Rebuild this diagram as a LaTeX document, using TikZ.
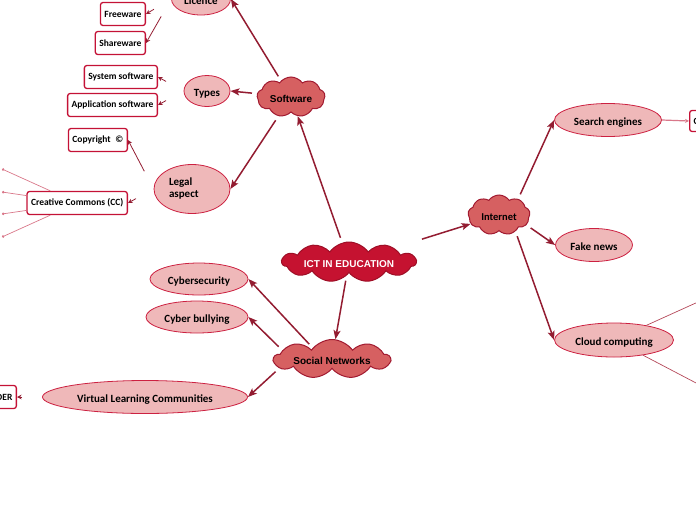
\documentclass[tikz,border=0pt]{standalone}
\usepackage{fontspec}
\setmainfont{Carlito}
\newfontfamily\headfont{Liberation Sans}
\usetikzlibrary{shapes.symbols,shapes.geometric,arrows.meta}

\definecolor{ictred}{HTML}{C51230}
\definecolor{topicred}{HTML}{D66061}
\definecolor{topicline}{HTML}{A11A30}
\definecolor{subpink}{HTML}{EFB8B9}
\definecolor{subline}{HTML}{CC2141}
\definecolor{leafline}{HTML}{C41236}
\definecolor{linkred}{HTML}{931C31}
\definecolor{stempink}{HTML}{D9788A}

\tikzstyle{topic}=[
	cloud, cloud puffs=9, cloud puff arc=110, cloud ignores aspect,
	draw=topicline, fill=topicred, line width=1pt, inner sep=0pt,
	text height=11pt, text depth=0pt,
	text=black, font=\headfont\bfseries\fontsize{10}{12}\selectfont
	]
\tikzstyle{central}=[
	topic, cloud puffs=11, fill=ictred, draw=ictred!80!black, text=white
	]
\tikzstyle{sub}=[
	ellipse, draw=subline, fill=subpink, line width=0.8pt, inner sep=0pt,
	minimum height=32pt, text height=10pt, text depth=0pt,
	font=\bfseries\fontsize{11}{12}\selectfont
	]
\tikzstyle{leaf}=[
	rectangle, rounded corners=2.5pt, draw=leafline, fill=white,
	line width=1.3pt, minimum height=23pt, inner xsep=4pt, anchor=east,
	font=\bfseries\fontsize{9.5}{11}\selectfont
	]
\tikzstyle{link}=[draw=linkred, line width=1.5pt, shorten <=5pt,
	-{Stealth[length=9pt,width=7pt,inset=2pt]}]
\tikzstyle{twig}=[draw=linkred, line width=0.8pt, shorten <=20pt,
	-{Stealth[length=4.5pt,width=4.5pt]}]
\tikzstyle{stem}=[draw=stempink, line width=0.7pt]

\begin{document}
\begin{tikzpicture}[x=1pt, y=-1pt]

	\useasboundingbox (0,0) rectangle (696,520);
	\clip (0,0) rectangle (696,520);

	% main topics
	\node (ict) [central, minimum width=134pt, minimum height=40pt] at (349,262) {ICT IN EDUCATION};
	\node (software) [topic, minimum width=68pt, minimum height=40pt] at (291,97) {Software};
	\node (internet) [topic, font=\bfseries\fontsize{10.5}{12}\selectfont,
		minimum width=62pt, minimum height=40pt] at (499,215) {Internet};
	\node (social) [topic, minimum width=116pt, minimum height=39pt] at (332,359) {Social Networks};

	% software branch
	\node (licence) [sub, minimum width=59pt] at (201,-1) {Licence};
	\node (types) [sub, minimum width=46pt, minimum height=31pt] at (207,91) {Types};
	\node (legal) [sub, minimum width=76pt, minimum height=49pt, text height=, text depth=,
		text width=46pt, align=left] at (192,189) {Legal\\aspect};

	\node (freeware) [leaf] at (146,14) {Freeware};
	\node (shareware) [leaf] at (146,43) {Shareware};
	\node (syssoft) [leaf] at (158,77) {System software};
	\node (appsoft) [leaf] at (158,105) {Application software};
	\node (copyright) [leaf] at (128,140) {Copyright\enspace ©};
	\node (cc) [leaf] at (128,203) {Creative Commons (CC)};

	% social branch
	\node (cybersec) [sub, minimum width=98pt] at (199,279) {Cybersecurity};
	\node (bullying) [sub, minimum width=102pt] at (197,317) {Cyber bullying};
	\node (vlc) [sub, minimum width=205pt, minimum height=33pt] at (145,397) {Virtual Learning Communities};
	\node (oer) [leaf] at (17,397) {OER};

	% internet branch
	\node (search) [sub, minimum width=107pt, minimum height=33pt] at (608,120) {Search engines};
	\node (fakenews) [sub, minimum width=77pt, minimum height=33pt] at (594,245) {Fake news};
	\node (cloudcomp) [sub, minimum width=119pt, minimum height=34pt] at (614,340) {Cloud computing};
	\node (cbox) [leaf, anchor=west, minimum height=21pt, text width=40pt, align=left] at (689,121) {C};

	% loose ends beyond the page
	\coordinate (ccA) at (2,169);
	\coordinate (ccB) at (2,192);
	\coordinate (ccC) at (2,214);
	\coordinate (ccD) at (2,237);
	\coordinate (cloudA) at (740,283);
	\coordinate (cloudB) at (740,406);

	\draw[link] (ict) -- (software);
	\draw[link, shorten <=29pt] (ict) -- (internet);
	\draw[link] (ict) -- (social);

	\draw[link] (software) -- (licence.east);
	\draw[link] (software) -- (types.east);
	\draw[link] (software) -- (legal.east);

	\draw[link] (social.150) -- (cybersec.east);
	\draw[link] (social.170) -- (bullying.east);
	\draw[link] (social.190) -- (vlc.east);

	\draw[link] (internet.40) -- (search.west);
	\draw[link] (internet.-20) -- (fakenews.west);
	\draw[link] (internet.-45) -- (cloudcomp.west);

	\draw[twig] (licence.west) -- (freeware.east);
	\draw[twig] (licence.west) -- (shareware.east);
	\draw[twig] (types.west) -- (syssoft.east);
	\draw[twig] (types.west) -- (appsoft.east);
	\draw[twig] (legal.west) -- (copyright.east);
	\draw[twig] (legal.west) -- (cc.east);
	\draw[twig] (vlc.west) -- (oer.east);

	\draw[stem, line width=1.2pt, -{Stealth[length=4pt,width=4pt]}] (search.east) -- (cbox.west);

	\foreach \leaf in {ccA,ccB,ccC,ccD}
		\draw[stem, -{Circle[length=2.5pt]}] (cc) -- (\leaf);
	\draw[stem, draw=topicline!80] (cloudcomp) -- (cloudA);
	\draw[stem, draw=topicline!80] (cloudcomp) -- (cloudB);

\end{tikzpicture}
\end{document}
